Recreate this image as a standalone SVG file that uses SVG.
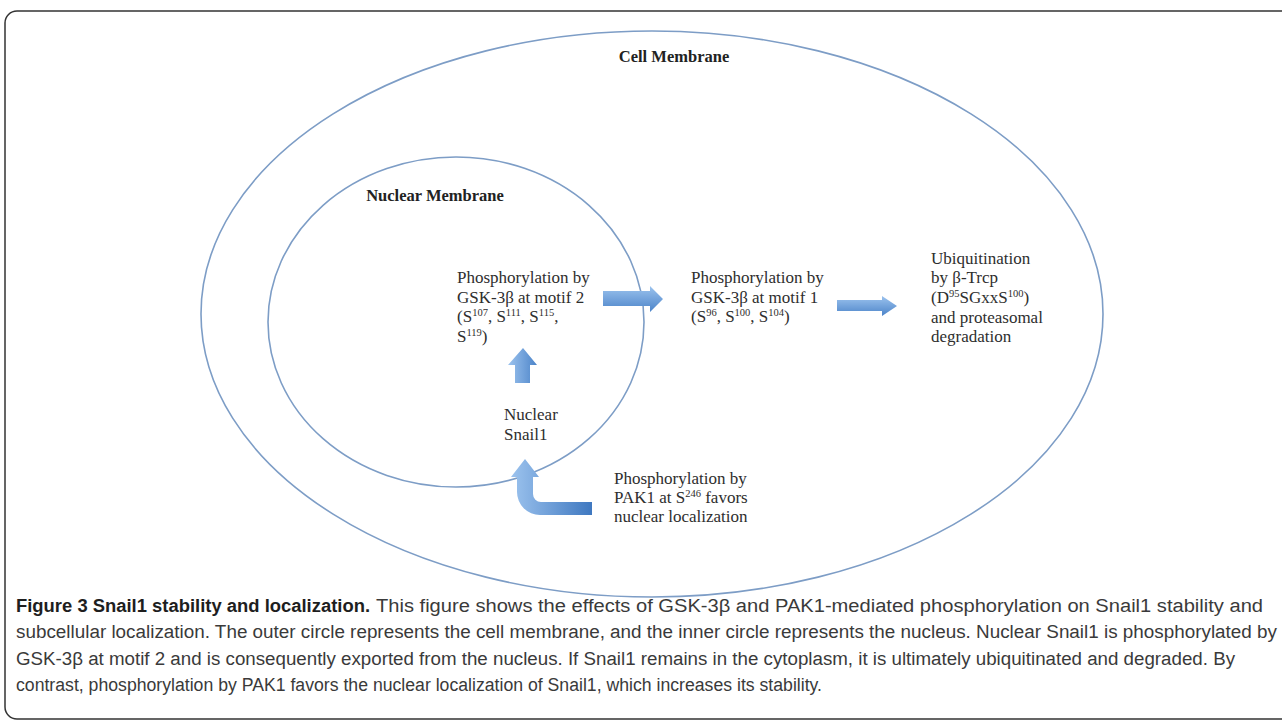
<svg xmlns="http://www.w3.org/2000/svg" width="1282" height="722" viewBox="0 0 1282 722">
<style>
.memb{fill:none;stroke:#7d9dc6;stroke-width:1.6}
.lbl{font-family:"Liberation Serif","Times New Roman",serif;font-size:16.5px;font-weight:bold;fill:#222}
.txt{font-family:"Liberation Serif","Times New Roman",serif;font-size:17px;fill:#2e2e2e}
.sup{font-size:10.5px}
.cap{font-family:"Liberation Sans",Arial,sans-serif;font-size:18px;fill:#3a3a3a}
.capb{font-family:"Liberation Sans",Arial,sans-serif;font-size:18px;font-weight:bold;fill:#1e1e1e}
.frame{fill:#fff;stroke:#333;stroke-width:1.5}
</style>
<defs>
<linearGradient id="gh" x1="0" y1="0" x2="0" y2="1">
<stop offset="0" stop-color="#9cc3ee"/><stop offset="1" stop-color="#4c84c9"/>
</linearGradient>
<linearGradient id="gv" x1="0" y1="0" x2="1" y2="0">
<stop offset="0" stop-color="#9cc3ee"/><stop offset="1" stop-color="#4c84c9"/>
</linearGradient>
<linearGradient id="gb" x1="0" y1="0" x2="1" y2="0">
<stop offset="0" stop-color="#9cc3ee"/><stop offset="1" stop-color="#3f78c0"/>
</linearGradient>
</defs>
<rect class="frame" x="5" y="11" width="1300" height="708" rx="12" ry="12"/>

<g id="cell-membrane">
<ellipse class="memb" cx="652" cy="314" rx="451" ry="283"/>
<text class="lbl" x="674" y="62" text-anchor="middle">Cell Membrane</text>
</g>

<g id="nuclear-membrane">
<ellipse class="memb" cx="456" cy="322" rx="188" ry="165"/>
<text class="lbl" x="435" y="201" text-anchor="middle">Nuclear Membrane</text>
</g>

<g id="motif2">
<text class="txt" x="457" y="283">Phosphorylation by</text>
<text class="txt" x="457" y="303">GSK-3β at motif 2</text>
<text class="txt" x="457" y="322">(S<tspan class="sup" dy="-6">107</tspan><tspan dy="6">, S</tspan><tspan class="sup" dy="-6">111</tspan><tspan dy="6">, S</tspan><tspan class="sup" dy="-6">115</tspan><tspan dy="6">,</tspan></text>
<text class="txt" x="457" y="342">S<tspan class="sup" dy="-6">119</tspan><tspan dy="6">)</tspan></text>
</g>

<g id="motif1">
<text class="txt" x="691" y="283">Phosphorylation by</text>
<text class="txt" x="691" y="303">GSK-3β at motif 1</text>
<text class="txt" x="691" y="322">(S<tspan class="sup" dy="-6">96</tspan><tspan dy="6">, S</tspan><tspan class="sup" dy="-6">100</tspan><tspan dy="6">, S</tspan><tspan class="sup" dy="-6">104</tspan><tspan dy="6">)</tspan></text>
</g>

<g id="ubiquitination">
<text class="txt" x="931" y="264">Ubiquitination</text>
<text class="txt" x="931" y="283">by β-Trcp</text>
<text class="txt" x="931" y="303">(D<tspan class="sup" dy="-6">95</tspan><tspan dy="6">SGxxS</tspan><tspan class="sup" dy="-6">100</tspan><tspan dy="6">)</tspan></text>
<text class="txt" x="931" y="323">and proteasomal</text>
<text class="txt" x="931" y="342">degradation</text>
</g>

<g id="nuclear-snail1">
<text class="txt" x="504" y="420">Nuclear</text>
<text class="txt" x="504" y="440">Snail1</text>
</g>

<g id="pak1">
<text class="txt" x="614" y="484">Phosphorylation by</text>
<text class="txt" x="614" y="503">PAK1 at S<tspan class="sup" dy="-6">246</tspan><tspan dy="6"> favors</tspan></text>
<text class="txt" x="614" y="522">nuclear localization</text>
</g>

<g id="connectors">
<path fill="url(#gh)" d="M603 291 H650 V286 L663 299 L650 312 V306 H603 Z"/>
<path fill="url(#gh)" d="M837 300 H882 V296 L897 306 L882 316 V311 H837 Z"/>
<path fill="url(#gv)" d="M523 348 L537 365 H530 V383 H515 V365 H508 Z"/>
<path fill="url(#gb)" d="M525 459 L539 477 H533 V494 A8 8 0 0 0 541 502 H592 V515 H540 A23 23 0 0 1 517 492 V477 H511 Z"/>
</g>

<g id="caption">
<text class="capb" x="16" y="612" textLength="354" lengthAdjust="spacingAndGlyphs">Figure 3 Snail1 stability and localization.</text>
<text class="cap" x="376" y="612" textLength="887" lengthAdjust="spacingAndGlyphs">This figure shows the effects of GSK-3β and PAK1-mediated phosphorylation on Snail1 stability and</text>
<text class="cap" x="16" y="638" textLength="1261" lengthAdjust="spacingAndGlyphs">subcellular localization. The outer circle represents the cell membrane, and the inner circle represents the nucleus. Nuclear Snail1 is phosphorylated by</text>
<text class="cap" x="16" y="665" textLength="1219" lengthAdjust="spacingAndGlyphs">GSK-3β at motif 2 and is consequently exported from the nucleus. If Snail1 remains in the cytoplasm, it is ultimately ubiquitinated and degraded. By</text>
<text class="cap" x="16" y="691" textLength="806" lengthAdjust="spacingAndGlyphs">contrast, phosphorylation by PAK1 favors the nuclear localization of Snail1, which increases its stability.</text>
</g>
</svg>
